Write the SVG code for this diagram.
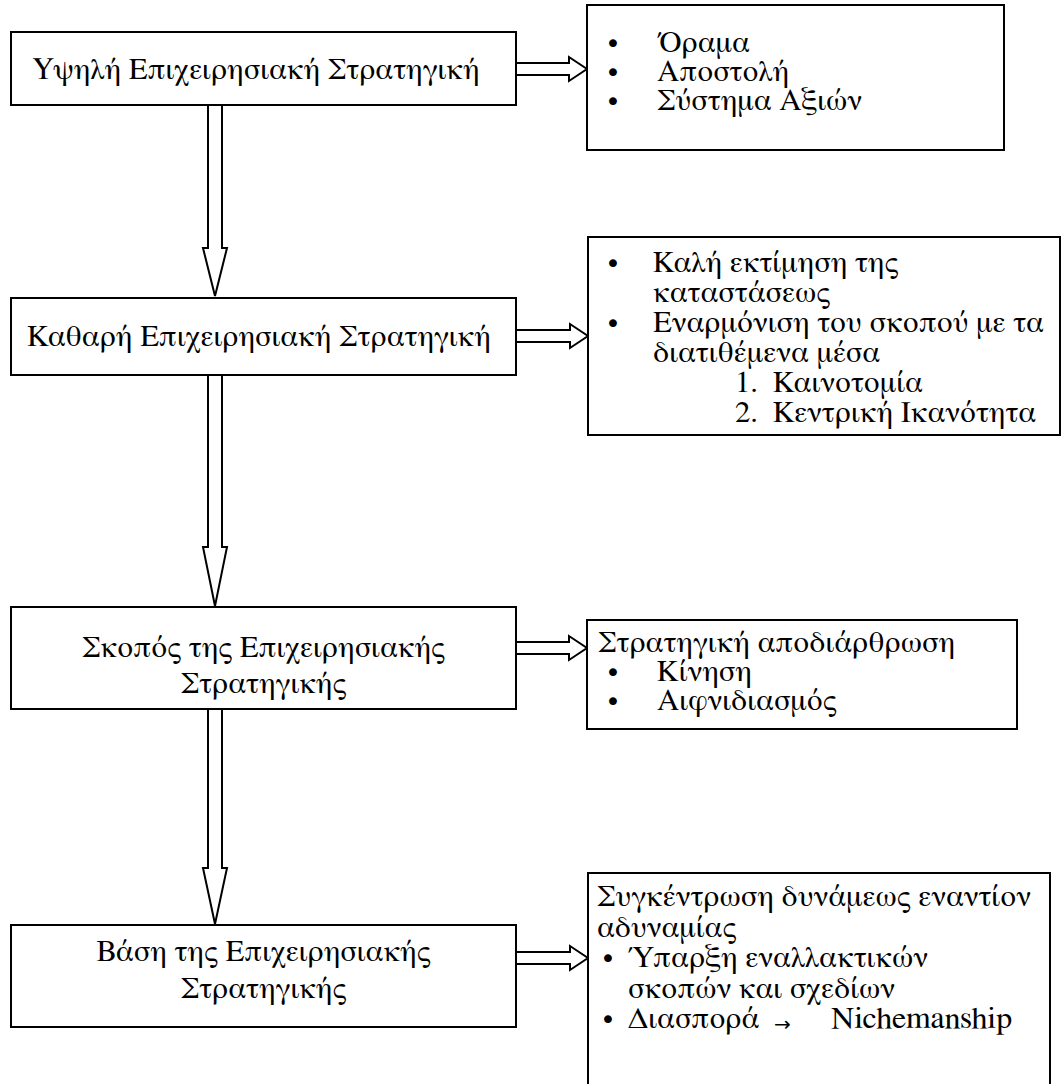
<svg xmlns="http://www.w3.org/2000/svg" width="1064" height="1084" viewBox="0 0 1064 1084">
  <style>
    .box { fill: #ffffff; stroke: #000000; stroke-width: 2; }
    .arrow { fill: #ffffff; stroke: #000000; stroke-width: 2; stroke-linejoin: miter; }
    .t { font-family: 'FreeSerif', 'DejaVu Serif', serif; font-size: 30.7px; fill: #000000; }
    .c { text-anchor: middle; }
    .b { font-family: 'DejaVu Sans', sans-serif; font-size: 27px; fill: #000000; text-anchor: middle; }
    .sym { font-family: 'DejaVu Sans', sans-serif; font-size: 20px; }
  </style>
  <rect width="1064" height="1084" fill="#ffffff"/>

  <!-- connectors: hollow block arrows -->
  <g id="connectors">
    <polygon class="arrow" points="208,105 208,248 203,248 215,296 227,248 222,248 222,105"/>
    <polygon class="arrow" points="208,375 208,547 203,547 215,606 227,547 222,547 222,375"/>
    <polygon class="arrow" points="208,709 208,868 203,868 215,924 227,868 222,868 222,709"/>
    <polygon class="arrow" points="516,63 569,63 569,57 587,69 569,81 569,75 516,75"/>
    <polygon class="arrow" points="516,330 570,330 570,324 588,336 570,348 570,342 516,342"/>
    <polygon class="arrow" points="516,642 569,642 569,636 587,648 569,660 569,654 516,654"/>
    <polygon class="arrow" points="516,952 570,952 570,946 588,958 570,970 570,964 516,964"/>
  </g>

  <!-- left column: strategy levels -->
  <g id="level1">
    <rect class="box" x="11" y="32" width="505" height="73"/>
    <text class="t c" x="256" y="79">Υψηλή Επιχειρησιακή Στρατηγική</text>
  </g>
  <g id="level2">
    <rect class="box" x="11" y="298" width="505" height="77"/>
    <text class="t c" x="259" y="346">Καθαρή Επιχειρησιακή Στρατηγική</text>
  </g>
  <g id="level3">
    <rect class="box" x="11" y="607" width="505" height="102"/>
    <text class="t c" x="263.5" y="657">Σκοπός της Επιχειρησιακής</text>
    <text class="t c" x="263.5" y="693">Στρατηγικής</text>
  </g>
  <g id="level4">
    <rect class="box" x="11" y="925" width="505" height="102"/>
    <text class="t c" x="263.5" y="961">Βάση της Επιχειρησιακής</text>
    <text class="t c" x="263.5" y="998">Στρατηγικής</text>
  </g>

  <!-- right column: details of each level -->
  <g id="details1">
    <rect class="box" x="587" y="5" width="417" height="145"/>
    <text class="b" x="613" y="53">•</text><text class="t" x="657" y="52">Όραμα</text>
    <text class="b" x="613" y="82">•</text><text class="t" x="657" y="81">Αποστολή</text>
    <text class="b" x="613" y="111">•</text><text class="t" x="657" y="110">Σύστημα Αξιών</text>
  </g>
  <g id="details2">
    <rect class="box" x="588" y="237" width="472" height="198"/>
    <text class="b" x="613" y="273">•</text><text class="t" x="653" y="272">Καλή εκτίμηση της</text>
    <text class="t" x="653" y="302">καταστάσεως</text>
    <text class="b" x="613" y="333">•</text><text class="t" x="653" y="332">Εναρμόνιση του σκοπού με τα</text>
    <text class="t" x="653" y="362">διατιθέμενα μέσα</text>
    <text class="t" x="735" y="392">1.</text><text class="t" x="773" y="392">Καινοτομία</text>
    <text class="t" x="735" y="422">2.</text><text class="t" x="773" y="422">Κεντρική Ικανότητα</text>
  </g>
  <g id="details3">
    <rect class="box" x="587" y="620" width="430" height="109"/>
    <text class="t" x="598" y="652">Στρατηγική αποδιάρθρωση</text>
    <text class="b" x="613" y="682">•</text><text class="t" x="657" y="681">Κίνηση</text>
    <text class="b" x="613" y="711">•</text><text class="t" x="657" y="710">Αιφνιδιασμός</text>
  </g>
  <g id="details4">
    <rect class="box" x="588" y="873" width="462" height="230"/>
    <text class="t" x="597" y="906">Συγκέντρωση δυνάμεως εναντίον</text>
    <text class="t" x="597" y="937">αδυναμίας</text>
    <text class="b" x="608" y="968">•</text><text class="t" x="628" y="967">Ύπαρξη εναλλακτικών</text>
    <text class="t" x="628" y="998">σκοπών και σχεδίων</text>
    <text class="b" x="608" y="1029">•</text><text class="t" x="628" y="1028">Διασπορά<tspan class="sym" x="774" y="1031">→</tspan><tspan x="831" y="1028" textLength="181" lengthAdjust="spacingAndGlyphs">Nichemanship</tspan></text>
  </g>
</svg>
